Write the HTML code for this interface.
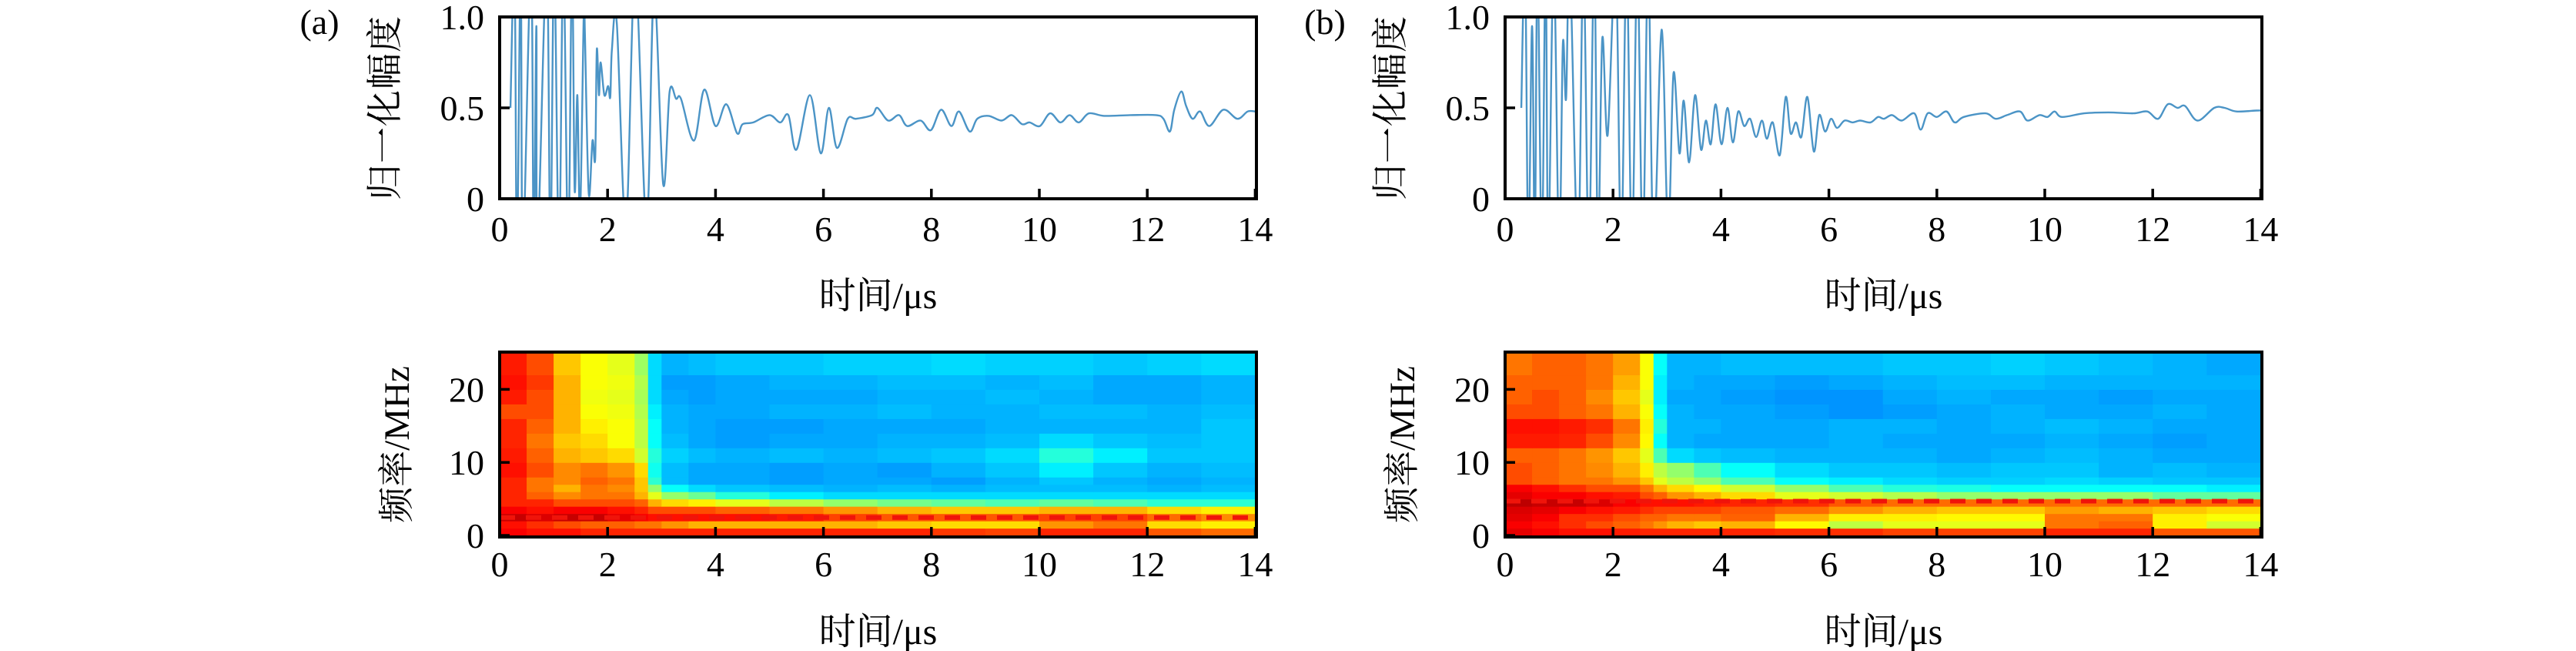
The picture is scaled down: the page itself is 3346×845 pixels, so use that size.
<!DOCTYPE html>
<html><head><meta charset="utf-8"><style>
html,body{margin:0;padding:0;background:#fff;}
svg{display:block;}
text{font-family:"Liberation Serif","Noto Serif CJK SC","Noto Sans CJK SC",serif;fill:#000;}
</style></head><body>
<svg id="fig" width="3346" height="845" viewBox="0 0 3346 845" xmlns="http://www.w3.org/2000/svg"></svg>
<script>
// ---- Panel (a) waveform data ----
const timeA = [0.2,0.275,0.32,0.39,0.43,0.58,0.63,0.68,0.70,0.87,0.94,1.01,1.1,1.18,1.27,1.34,1.39,1.44,1.49,1.56,1.58,1.65,1.72,1.77,1.8,1.84,1.87,1.94,2.01,2.05,2.08,2.17,2.34,2.51,2.72,2.86,3.03,3.15,3.27,3.36,3.6,3.79,4.0,4.2,4.4,4.5,4.7,5.0,5.2,5.35,5.5,5.75,5.95,6.1,6.25,6.45,6.6,6.9,7.0,7.2,7.4,7.55,7.8,7.99,8.18,8.37,8.51,8.71,8.85,9.06,9.3,9.49,9.68,9.82,10.01,10.2,10.39,10.56,10.73,10.92,11.2,11.68,12.16,12.3,12.42,12.5,12.63,12.72,12.84,12.98,13.15,13.41,13.67,13.86,14.0];
const ampA = [0.5,1.3,-0.3,1.3,-0.3,1.3,-0.3,0.95,-0.3,1.3,-0.3,1.3,-0.3,1.3,-0.3,1.3,0.05,0.57,-0.1,1.05,0.9,0.03,0.32,0.22,0.82,0.57,0.75,0.57,0.62,0.56,0.82,0.97,-0.15,1.25,-0.15,1.15,0.08,0.59,0.55,0.55,0.32,0.6,0.4,0.52,0.36,0.41,0.42,0.46,0.42,0.46,0.27,0.57,0.25,0.5,0.28,0.44,0.44,0.46,0.5,0.43,0.46,0.4,0.43,0.377,0.49,0.40,0.48,0.37,0.44,0.456,0.43,0.46,0.41,0.42,0.40,0.47,0.42,0.46,0.42,0.47,0.456,0.46,0.46,0.44,0.37,0.49,0.59,0.51,0.44,0.48,0.40,0.49,0.44,0.48,0.48];
// ---- Panel (b) waveform data ----
const timeB = [0.3,0.37,0.43,0.5,0.55,0.6,0.68,0.75,0.8,0.9,1.0,1.07,1.13,1.2,1.35,1.45,1.55,1.65,1.72,1.8,1.9,2.05,2.15,2.25,2.35,2.45,2.55,2.65,2.75,2.9,3.02,3.12,3.23,3.31,3.41,3.52,3.63,3.72,3.81,3.9,4.01,4.12,4.22,4.32,4.43,4.54,4.65,4.76,4.85,4.96,5.09,5.2,5.29,5.39,5.49,5.6,5.72,5.82,5.93,6.04,6.15,6.29,6.44,6.58,6.77,6.91,7.02,7.17,7.35,7.58,7.7,7.83,8.0,8.18,8.33,8.5,8.9,9.09,9.3,9.54,9.68,9.9,10.05,10.18,10.32,10.73,11.18,11.64,11.9,12.1,12.28,12.46,12.6,12.83,13.14,13.33,13.55,13.92,14.0];
const ampB = [0.5,1.3,-0.3,0.95,-0.3,1.3,-0.3,1.3,-0.3,1.3,-0.3,0.85,0.55,1.3,-0.3,1.3,-0.3,1.3,-0.3,0.88,0.35,1.3,-0.3,1.3,-0.3,1.3,-0.3,1.3,-0.3,0.93,-0.2,0.69,0.25,0.54,0.2,0.57,0.27,0.43,0.3,0.52,0.3,0.5,0.31,0.48,0.4,0.44,0.34,0.43,0.33,0.42,0.24,0.56,0.36,0.42,0.34,0.56,0.26,0.46,0.37,0.44,0.39,0.43,0.42,0.43,0.42,0.45,0.44,0.46,0.43,0.47,0.38,0.47,0.45,0.48,0.42,0.45,0.47,0.44,0.46,0.48,0.43,0.46,0.45,0.48,0.45,0.47,0.475,0.47,0.48,0.44,0.52,0.5,0.51,0.43,0.5,0.5,0.48,0.485,0.485];
// ---- Spectrogram grids (rows bottom->top) ----
const specTimeEdges = [0,0.5,1,1.5,2,2.5,2.75,3,3.5,4,5,6,7,8,9,10,11,12,13,14.1];
const specFreqEdges = [0,1,2,3,4,5,6,7,8,10,12,14,16,18,20,22,25];
const specA = [
[.88,.86,.86,.84,.84,.84,.84,.84,.84,.84,.84,.84,.84,.82,.81,.84,.84,.79,.77],
[.86,.83,.8,.78,.78,.76,.76,.73,.7,.7,.7,.7,.68,.66,.66,.73,.76,.66,.64],
[.93,.91,.93,.93,.9,.88,.86,.86,.86,.86,.85,.81,.79,.79,.79,.81,.81,.77,.74],
[.88,.86,.88,.88,.86,.84,.8,.8,.8,.78,.76,.73,.7,.68,.68,.7,.7,.66,.64],
[.84,.84,.8,.8,.8,.78,.7,.66,.64,.6,.56,.52,.49,.47,.45,.47,.45,.42,.42],
[.84,.78,.74,.76,.76,.7,.6,.52,.48,.41,.36,.34,.34,.34,.34,.34,.34,.34,.34],
[.84,.76,.7,.76,.74,.68,.52,.38,.34,.32,.31,.3,.31,.3,.31,.31,.31,.3,.31],
[.84,.76,.74,.78,.76,.68,.42,.31,.29,.29,.28,.29,.29,.28,.3,.32,.3,.29,.3],
[.86,.8,.74,.76,.73,.66,.39,.31,.29,.29,.28,.29,.28,.3,.32,.36,.32,.3,.31],
[.85,.78,.7,.68,.66,.58,.41,.33,.31,.3,.31,.3,.31,.32,.34,.41,.36,.32,.32],
[.84,.76,.68,.66,.62,.56,.38,.31,.29,.28,.29,.29,.3,.3,.31,.34,.32,.31,.32],
[.84,.78,.7,.64,.62,.56,.38,.3,.29,.28,.28,.29,.29,.29,.3,.3,.3,.3,.32],
[.8,.8,.7,.62,.61,.55,.36,.3,.29,.29,.3,.3,.31,.3,.3,.31,.31,.3,.31],
[.85,.8,.7,.61,.6,.54,.34,.29,.28,.29,.29,.29,.3,.3,.31,.3,.29,.29,.3],
[.86,.82,.7,.62,.61,.55,.34,.28,.28,.29,.3,.3,.31,.31,.3,.31,.29,.29,.3],
[.85,.8,.68,.62,.6,.53,.34,.3,.31,.32,.32,.33,.33,.34,.33,.33,.32,.33,.34]];
const specB = [
[.9,.88,.86,.86,.85,.84,.84,.84,.84,.84,.83,.83,.81,.81,.81,.84,.84,.79,.79],
[.88,.86,.83,.8,.78,.76,.73,.7,.68,.7,.63,.56,.6,.6,.6,.76,.78,.64,.58],
[.9,.88,.83,.83,.8,.78,.78,.76,.76,.78,.7,.64,.64,.63,.63,.76,.76,.64,.62],
[.91,.9,.88,.86,.85,.83,.81,.81,.81,.79,.77,.73,.7,.68,.68,.72,.7,.68,.66],
[.94,.93,.93,.91,.88,.86,.86,.86,.85,.84,.83,.79,.77,.77,.77,.77,.77,.77,.77],
[.9,.88,.88,.86,.85,.8,.78,.73,.7,.66,.6,.58,.55,.52,.52,.52,.52,.47,.47],
[.88,.86,.83,.8,.8,.76,.7,.66,.63,.58,.52,.45,.41,.4,.38,.38,.38,.38,.36],
[.8,.78,.76,.76,.73,.68,.6,.56,.52,.45,.38,.36,.34,.33,.33,.34,.33,.32,.32],
[.8,.78,.76,.74,.7,.64,.56,.52,.45,.38,.34,.32,.32,.31,.32,.32,.3,.31,.3],
[.78,.78,.76,.73,.68,.6,.45,.34,.32,.31,.3,.3,.3,.29,.3,.31,.3,.29,.29],
[.85,.85,.84,.8,.74,.63,.38,.3,.29,.29,.29,.3,.29,.29,.29,.3,.29,.28,.29],
[.86,.86,.85,.83,.76,.64,.41,.3,.3,.29,.29,.3,.3,.29,.3,.31,.3,.29,.29],
[.8,.8,.78,.76,.7,.62,.38,.3,.29,.29,.28,.27,.28,.29,.3,.29,.29,.3,.29],
[.78,.8,.78,.74,.68,.6,.36,.29,.29,.28,.27,.27,.29,.3,.29,.29,.28,.29,.29],
[.78,.78,.78,.76,.7,.62,.36,.3,.29,.29,.28,.29,.3,.31,.31,.3,.3,.3,.3],
[.76,.78,.78,.76,.72,.62,.38,.3,.3,.31,.31,.31,.32,.32,.33,.32,.31,.3,.29]];
const dashFreqA = 2.45;
const dashFreqB = 4.7;
const xTicks = [0,2,4,6,8,10,12,14];
const ampTicks = [0,0.5,1.0];
const ampTickLabels = ["0","0.5","1.0"];
const freqTicks = [0,10,20];

const NS = "http://www.w3.org/2000/svg";
const svg = document.getElementById('fig');
function mk(tag, attrs, parent){const e=document.createElementNS(NS,tag);for(const k in attrs)e.setAttribute(k,attrs[k]);(parent||svg).appendChild(e);return e;}
function jet(v){const c=x=>Math.round(255*Math.max(0,Math.min(1,x)));return `rgb(${c(1.5-Math.abs(4*v-3))},${c(1.5-Math.abs(4*v-2))},${c(1.5-Math.abs(4*v-1))})`;}
function smoothPath(pts){let d=`M${pts[0][0]},${pts[0][1]}`;for(let i=0;i<pts.length-1;i++){const p0=pts[Math.max(0,i-1)],p1=pts[i],p2=pts[i+1],p3=pts[Math.min(pts.length-1,i+2)];const c1x=p1[0]+(p2[0]-p0[0])/6,c1y=p1[1]+(p2[1]-p0[1])/6,c2x=p2[0]-(p3[0]-p1[0])/6,c2y=p2[1]-(p3[1]-p1[1])/6;d+=`C${c1x.toFixed(1)},${c1y.toFixed(1)} ${c2x.toFixed(1)},${c2y.toFixed(1)} ${p2[0].toFixed(1)},${p2[1].toFixed(1)}`;}return d;}

function panel(id, ox, times, amps, spec, dashF, letter){
  const x0=649+ox, pxPerUs=70.1;
  const X = t => x0 + t*pxPerUs;
  const right = 1632+ox;
  const yTop=22, yBot=258;
  const Y = a => yBot - a*(yBot-yTop);
  const g = mk('g',{});
  
  
  const cpw=mk('clipPath',{id:id+'clipw'},g);
  mk('rect',{x:x0,y:yTop,width:right-x0,height:yBot-yTop},cpw);
  const pts = times.map((t,i)=>[X(t),Y(amps[i])]);
  const line = mk('path',{d:smoothPath(pts),fill:'none',stroke:'rgb(75,148,198)','stroke-width':2.4,'stroke-linejoin':'round','clip-path':`url(#${id}clipw)`},g);
  
  
  xTicks.forEach(t=>{mk('line',{x1:X(t),x2:X(t),y1:yBot,y2:yBot-13,stroke:'#000','stroke-width':3.5},g);
    const tx=mk('text',{x:X(t),y:313,'font-size':46,'text-anchor':'middle'},g);tx.textContent=t;
    
    });
  ampTicks.forEach((a,i)=>{mk('line',{x1:x0,x2:x0+13,y1:Y(a),y2:Y(a),stroke:'#000','stroke-width':3.5},g);
    const tx=mk('text',{x:x0-20,y:Y(a)+16,'font-size':46,'text-anchor':'end'},g);tx.textContent=ampTickLabels[i];
    
    });
  mk('rect',{x:x0,y:yTop,width:right-x0,height:yBot-yTop,fill:'none',stroke:'#000','stroke-width':4},g);
  const yt=mk('text',{x:0,y:0,'font-size':47,'text-anchor':'middle',transform:`translate(${x0-133},${(yTop+yBot)/2}) rotate(-90)`,'letter-spacing':'1'},g);yt.textContent='归一化幅度';
  
  
  const xt=mk('text',{x:(x0+right)/2,y:400,'font-size':48,'text-anchor':'middle'},g);xt.textContent='时间/μs';
  
  
  const lab=mk('text',{x:x0-234,y:44,'font-size':46,'text-anchor':'middle'},g);lab.textContent=letter;
  
  
  // spectrogram
  const sTop=457, sBot=697, f0y=695, f25y=458;
  const F = f => f0y - f*(f0y-f25y)/25;
  const h = mk('g',{});
  
  
  const cp=mk('clipPath',{id:id+'clips'},h);mk('rect',{x:x0,y:sTop,width:right-x0,height:sBot-sTop},cp);
  const cells=mk('g',{'clip-path':`url(#${id}clips)`},h);
  spec.forEach((row,r)=>{row.forEach((v,c)=>{
    const x1=X(specTimeEdges[c]),x2=X(specTimeEdges[c+1]);
    const yA=F(specFreqEdges[r+1]),yB=r===0?sBot:F(specFreqEdges[r]);
    const cell=mk('rect',{x:x1,y:yA,width:x2-x1+0.6,height:yB-yA+0.6,fill:jet(v)},cells);
    
    
  });});
  const dash=mk('line',{x1:x0,x2:right,y1:F(dashF),y2:F(dashF),stroke:'rgb(240,20,10)','stroke-width':6,'stroke-dasharray':'20,14'},cells);
  
  
  xTicks.forEach(t=>{mk('line',{x1:X(t),x2:X(t),y1:sBot,y2:sBot-13,stroke:'#000','stroke-width':3.5},h);
    const tx=mk('text',{x:X(t),y:748,'font-size':46,'text-anchor':'middle'},h);tx.textContent=t;
    
    });
  freqTicks.forEach(f=>{mk('line',{x1:x0,x2:x0+13,y1:F(f),y2:F(f),stroke:'#000','stroke-width':3.5},h);
    const tx=mk('text',{x:x0-20,y:F(f)+16,'font-size':46,'text-anchor':'end'},h);tx.textContent=f;
    
    });
  mk('rect',{x:x0,y:sTop,width:right-x0,height:sBot-sTop,fill:'none',stroke:'#000','stroke-width':4},h);
  const yt2=mk('text',{x:0,y:0,'font-size':47,'text-anchor':'middle',transform:`translate(${x0-118},${(sTop+sBot)/2}) rotate(-90)`},h);yt2.textContent='频率/MHz';
  
  
  const xt2=mk('text',{x:(x0+right)/2,y:836,'font-size':48,'text-anchor':'middle'},h);xt2.textContent='时间/μs';
  
  
}
panel('a',0,timeA,ampA,specA,dashFreqA,'(a)');
panel('b',1306,timeB,ampB,specB,dashFreqB,'(b)');
</script>
</body></html>
